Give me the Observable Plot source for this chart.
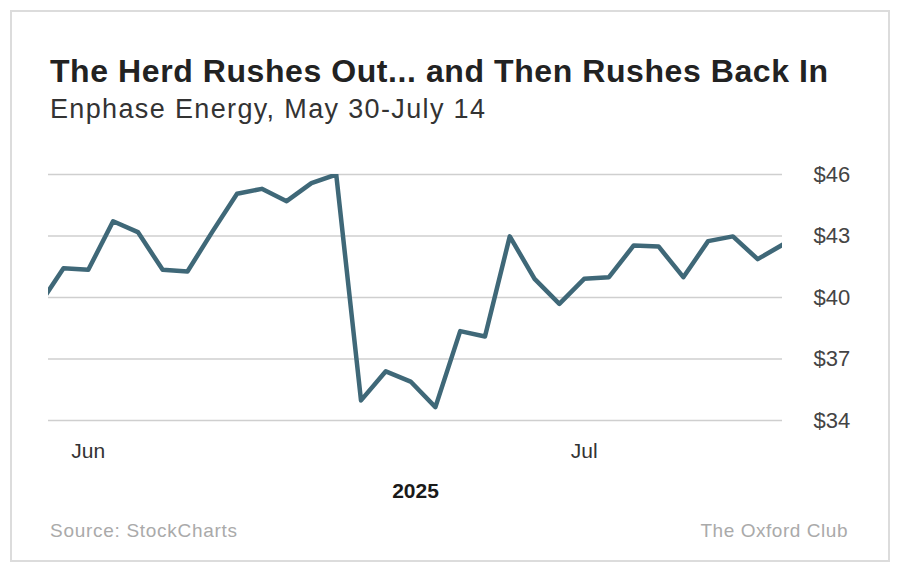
<!DOCTYPE html>
<html>
<head>
<meta charset="utf-8">
<script src="https://cdn.jsdelivr.net/npm/d3@7"></script>
<script src="https://cdn.jsdelivr.net/npm/@observablehq/plot@0.6"></script>
<style>
  html, body { margin: 0; padding: 0; background: #fff; }
  #wrap { position: relative; width: 900px; height: 573px; overflow: hidden; font-family: "Liberation Sans", Arial, sans-serif; }
  #frame { position: absolute; left: 10px; top: 10px; width: 880px; height: 552px; border: 2px solid #dcdcdc; box-sizing: border-box; }
  .t { position: absolute; line-height: 1; white-space: nowrap; }
  #title { left: 50px; top: 55px; font-size: 32px; font-weight: bold; color: #222; }
  #subtitle { left: 50px; top: 96px; font-size: 27px; color: #333; }
  #source { left: 50px; top: 521px; font-size: 19px; color: #aaa; }
  #brand { right: 52px; top: 521px; font-size: 19px; color: #aaa; }
  #chart { position: absolute; left: 0; top: 150px; }
  g[aria-label="x-axis label"] text { font-weight: bold; font-size: 21px; fill: #1a1a1a; }
</style>
</head>
<body>
<div id="wrap">
  <div id="frame"></div>
  <div class="t" id="title">The Herd Rushes Out... and Then Rushes Back In</div>
  <div class="t" id="subtitle">Enphase Energy, May 30-July 14</div>
  <div id="chart"></div>
  <div class="t" id="source">Source: StockCharts</div>
  <div class="t" id="brand">The Oxford Club</div>
</div>
<script>
// Trading days (first one only partly visible at the left edge)
const dates = [
  "2025-05-29", "2025-05-30",
  "2025-06-02", "2025-06-03", "2025-06-04", "2025-06-05", "2025-06-06",
  "2025-06-09", "2025-06-10", "2025-06-11", "2025-06-12", "2025-06-13",
  "2025-06-16", "2025-06-17", "2025-06-18", "2025-06-20",
  "2025-06-23", "2025-06-24", "2025-06-25", "2025-06-26", "2025-06-27",
  "2025-06-30", "2025-07-01", "2025-07-02", "2025-07-03",
  "2025-07-07", "2025-07-08", "2025-07-09", "2025-07-10", "2025-07-11",
  "2025-07-14"
];
const prices = [
  39.6, 41.43,
  41.35, 43.72, 43.19, 41.35, 41.27,
  43.2, 45.06, 45.30, 44.70, 45.58,
  46.0, 34.98, 36.40, 35.90,
  34.65, 38.36, 38.10, 42.98, 40.91,
  39.69, 40.91, 40.99, 42.54,
  42.49, 40.99, 42.75, 42.98, 41.87,
  42.57
];
const yTicks = [34, 37, 40, 43, 46];
const monthLabels = ["Jun", "Jul"];
const xAxisLabel = "2025";

const data = dates.map((d, i) => ({i, date: d, price: prices[i]}));
// month ticks: first trading day of each new month
const monthTicks = data.filter((d, k) => k > 0 && d.date.slice(5, 7) !== data[k - 1].date.slice(5, 7)).map(d => d.i);
const tickName = new Map(monthTicks.map((t, k) => [t, monthLabels[k]]));

const chart = Plot.plot({
  width: 900,
  height: 360,
  marginLeft: 48,
  marginRight: 118,
  marginTop: 24,
  marginBottom: 90,
  style: {fontFamily: "'Liberation Sans', Arial, sans-serif", background: "transparent"},
  x: {domain: [0.395, dates.length - 1]},
  y: {domain: [34, 46]},
  marks: [
    Plot.gridY(yTicks, {stroke: "#cfcfcf", strokeOpacity: 1, strokeWidth: 1.5}),
    Plot.line(data, {x: "i", y: "price", stroke: "#3f6878", strokeWidth: 4.5, clip: true}),
    Plot.axisY(yTicks, {anchor: "right", tickSize: 0, tickPadding: 31, tickFormat: d => "$" + d,
      fontSize: 22, fill: "#444", textAnchor: "start", label: null}),
    Plot.axisX(monthTicks, {anchor: "bottom", tickSize: 0, tickPadding: 23, tickFormat: d => tickName.get(d),
      fontSize: 21, fill: "#333", label: xAxisLabel, labelAnchor: "center", labelArrow: "none", labelOffset: 77})
  ]
});
document.getElementById("chart").appendChild(chart);

// fit texts to measured widths in the reference via letter spacing
function fit(id, target) {
  const el = document.getElementById(id);
  const w = el.getBoundingClientRect().width;
  const n = el.textContent.length;
  el.style.letterSpacing = ((target - w) / (n - 1)) + "px";
}
fit("title", 778);
fit("subtitle", 435);
fit("source", 187);
fit("brand", 147);
</script>
</body>
</html>
